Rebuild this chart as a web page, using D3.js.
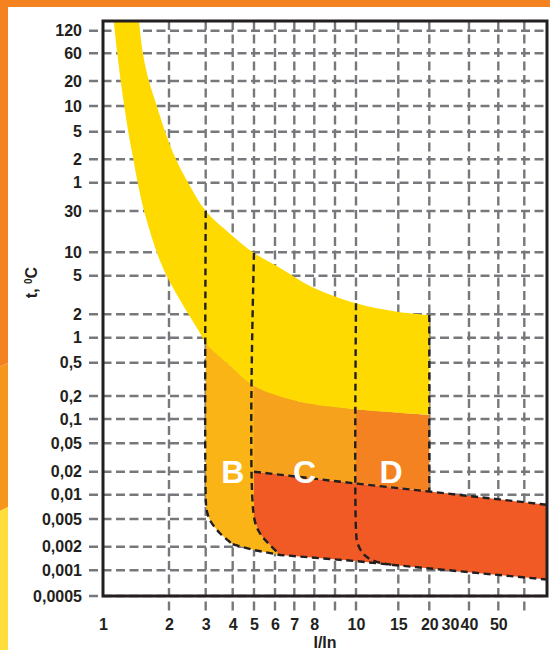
<!DOCTYPE html>
<html><head><meta charset="utf-8">
<script src="https://cdn.jsdelivr.net/npm/d3@7"></script>
<style>body{margin:0;background:#fff}svg{display:block}</style>
</head><body>
<script>
// ---------- DATA ----------
const yTickLabels = ["120","60","20","10","5","2","1","30","10","5","2","1","0,5","0,2","0,1","0,05","0,02","0,01","0,005","0,002","0,001","0,0005"];
const yTickSeconds = [7200,3600,1200,600,300,120,60,30,10,5,2,1,0.5,0.2,0.1,0.05,0.02,0.01,0.005,0.002,0.001,0.0005];
const xTickValues = [1,2,3,4,5,6,7,8,10,15,20,30,40,50];
const xGridValues = [2,3,4,5,6,7,8,9,10,15,20,40,50,60];

// thermal release band [I/In, t seconds]
const thermalUpper = [[1.46,9700],[1.52,3600],[1.62,1200],[1.76,600],[1.92,300],[2.16,120],[2.47,60],[3,30],[3.9,16.3],[5,9.8],[6.25,6.3],[7.9,3.8],[10,2.6],[14.8,2.13],[20,1.96]];
const thermalLower = [[1.12,9700],[1.162,3600],[1.204,1200],[1.25,600],[1.304,300],[1.375,120],[1.44,60],[1.54,30],[1.76,10],[1.95,5],[2.48,2],[2.82,1.14],[3,0.86],[3.9,0.46],[5,0.263],[7.27,0.168],[10,0.134],[20,0.113]];
// magnetic release
const magTop = [[5,0.02],[10,0.014],[20,0.011],[70,0.0075]];
const magBottom = [[4,0.00217],[5,0.00181],[6.25,0.00157],[10,0.00131],[14.3,0.00117],[44,0.00092],[70,0.00078]];
const curveB = [[3,0.0095],[3.03,0.0065],[3.14,0.0048],[3.5,0.0031],[4,0.00217]];
const curveC = [[5,0.0053],[5.27,0.0031],[5.66,0.00224],[6.25,0.00157]];
const curveD = [[10,0.0035],[10.15,0.00224],[10.83,0.00157],[12.1,0.00129],[14.3,0.00117]];
const zoneNames = ["B","C","D"];
const zoneLabelI = [4,7.5,14];
const zoneLabelT = [0.02,0.02,0.02];

// ---------- LAYOUT ----------
const W=550,H=650;
const P={l:103,r:547,t:21,b:596};
// hand-ruled axis rulers of the original chart
const xRulerVals=[1,2,3,4,5,6,7,8,9,10,15,20,30,40,50,60,70];
const xRulerPx=[103,169,205.7,232.7,254,275,294.3,314.3,335,356,398.3,429.3,450,469,498.3,524.3,547];
const yRulerPx=[30.7,53.3,81,106,131.7,159.3,182.7,211,252.3,275.7,314.3,337.7,362.7,396,419,443.3,471.7,494.7,519,546.7,570.3,596];

const x=d3.scaleLog().domain(xRulerVals).range(xRulerPx);
const y=d3.scaleLog().domain(yTickSeconds).range(yRulerPx);

const FONT="'Liberation Sans', Arial, sans-serif";
const INK="#231F20", GRID="#77787B";

const svg=d3.select("body").append("svg").attr("width",W).attr("height",H);

// background & frame decoration
svg.append("rect").attr("width",W).attr("height",H).attr("fill","#fff");
svg.append("rect").attr("x",0).attr("y",0).attr("width",W).attr("height",7).attr("fill","#F58220");
const strip=[
  {pts:[[0,0],[8,0],[8,363],[0,367]],c:"#F58220"},
  {pts:[[0,367],[8,363],[8,507],[0,511]],c:"#F7961D"},
  {pts:[[0,511],[8,507],[8,650],[0,650]],c:"#FFDE3B"}];
svg.selectAll("polygon.strip").data(strip).join("polygon").attr("class","strip")
  .attr("points",d=>d.pts.map(p=>p.join(",")).join(" ")).attr("fill",d=>d.c);

// gridlines
const grid=svg.append("g").attr("stroke",GRID).attr("stroke-width",2.4).attr("stroke-dasharray","9,4.5");
grid.selectAll("line.h").data(yTickSeconds).join("line").attr("class","h")
  .attr("x1",89).attr("x2",P.r).attr("y1",d=>y(d)).attr("y2",d=>y(d));
grid.selectAll("line.v").data(xGridValues).join("line").attr("class","v")
  .attr("x1",d=>x(d)).attr("x2",d=>x(d)).attr("y1",P.t).attr("y2",612);

// path helpers
const lin=d3.line().x(d=>x(d[0])).y(d=>y(d[1]));
const crv=d3.line().x(d=>x(d[0])).y(d=>y(d[1])).curve(d3.curveCatmullRom.alpha(0.5));
function build(segs){
  return segs.map((s,i)=>{const p=(s.c?crv:lin)(s.p);return i===0?p:"L"+p.slice(1);}).join("")+"Z";
}
const inRange=(arr,a,b)=>arr.filter(d=>d[0]>=a&&d[0]<=b);
const rev=a=>a.slice().reverse();

svg.append("clipPath").attr("id","clip").append("rect")
  .attr("x",P.l).attr("y",P.t).attr("width",P.r-P.l).attr("height",P.b-P.t);
const fills=svg.append("g").attr("clip-path","url(#clip)");

// zone B
fills.append("path").attr("fill","#FBB416").attr("d",build([
  {p:inRange(thermalLower,3,5)},
  {p:[[5,0.263],curveC[0]]},
  {p:curveC,c:true},
  {p:rev(inRange(magBottom,4,6.25))},
  {p:rev(curveB),c:true}
]));
// zone C
fills.append("path").attr("fill","#F7A21D").attr("d",build([
  {p:inRange(thermalLower,5,10).concat([[10,magTop[1][1]]])},
  {p:rev(inRange(magTop,5,10))}
]));
// zone D
fills.append("path").attr("fill","#F48221").attr("d",build([
  {p:inRange(thermalLower,10,20).concat([[20,magTop[2][1]]])},
  {p:rev(inRange(magTop,10,20))}
]));
// magnetic overlap (red)
fills.append("path").attr("fill","#F15A24").attr("d",build([
  {p:magTop},
  {p:rev(inRange(magBottom,6.25,70))},
  {p:rev(curveC),c:true}
]));
// thermal band (yellow)
fills.append("path").attr("fill","#FEDA00").attr("d",build([
  {p:thermalUpper,c:true},
  {p:rev(thermalLower),c:true}
]));

// dashed boundaries
const dash=svg.append("g").attr("clip-path","url(#clip)").attr("fill","none").attr("stroke",INK)
  .attr("stroke-width",2.4).attr("stroke-dasharray","7,4.5");
const upAt=v=>thermalUpper.find(d=>d[0]===v);
dash.append("path").attr("d",crv([upAt(3)].concat(curveB)));
dash.append("path").attr("d",crv([upAt(5)].concat(curveC)));
dash.append("path").attr("d",crv([upAt(10)].concat(curveD)));
dash.append("path").attr("d",lin([upAt(20),[20,magTop[2][1]]]));
dash.append("path").attr("d",lin(magTop));
dash.append("path").attr("d",lin(magBottom));

// frame
svg.append("rect").attr("x",P.l).attr("y",P.t).attr("width",P.r-P.l).attr("height",P.b-P.t)
  .attr("fill","none").attr("stroke",INK).attr("stroke-width",3);

// axes
const yAxis=d3.axisLeft(y).tickValues(yTickSeconds).tickFormat((d,i)=>yTickLabels[i]).tickSize(0).tickPadding(21);
const gy=svg.append("g").attr("transform",`translate(${P.l},0)`).call(yAxis);
gy.select(".domain").remove();
gy.attr("font-family",FONT).attr("font-size",16).attr("font-weight","bold").attr("color",INK);

const xAxis=d3.axisBottom(x).tickValues(xTickValues).tickFormat(d3.format("d")).tickSize(0).tickPadding(22.6);
const gx=svg.append("g").attr("transform",`translate(0,${P.b})`).call(xAxis);
gx.select(".domain").remove();
gx.attr("font-family",FONT).attr("font-size",16).attr("font-weight","bold").attr("color",INK);

// titles
svg.append("text").attr("x",(P.l+P.r)/2).attr("y",648).attr("text-anchor","middle")
  .attr("font-family",FONT).attr("font-size",16).attr("font-weight","bold").attr("fill",INK).text("I/In");
const yt=svg.append("text").attr("transform","translate(37,282.5) rotate(-90)").attr("text-anchor","middle")
  .attr("font-family",FONT).attr("font-size",16).attr("font-weight","bold").attr("fill",INK);
yt.append("tspan").text("t, ");
yt.append("tspan").attr("font-size",10).attr("baseline-shift","55%").text("0");
yt.append("tspan").text("C");

// zone letters
svg.selectAll("text.zone").data(zoneNames).join("text").attr("class","zone")
  .attr("x",(d,i)=>x(zoneLabelI[i])).attr("y",(d,i)=>y(zoneLabelT[i])).attr("dy","0.36em")
  .attr("text-anchor","middle").attr("font-family",FONT).attr("font-size",32).attr("font-weight","bold")
  .attr("fill","#fff").text(d=>d);
</script>
</body></html>
